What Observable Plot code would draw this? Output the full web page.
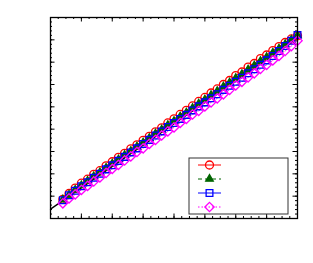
<!DOCTYPE html>
<html><head><meta charset="utf-8">
<script src="https://cdn.jsdelivr.net/npm/d3@7"></script>
<script src="https://cdn.jsdelivr.net/npm/@observablehq/plot@0.6"></script>
<style>html,body{margin:0;padding:0;background:#fff}svg{display:block}</style>
</head><body><div id="chart"></div>
<script>
const xs = [2,3,4,5,6,7,8,9,10,11,12,13,14,15,16,17,18,19,20,21,22,23,24,25,26,27,28,29,30,31,32,33,34,35,36,37,38,39,40];
const redY = [4.3,5.6,6.8,7.9,8.8,9.9,10.7,11.8,12.7,13.7,14.6,15.6,16.5,17.5,18.4,19.4,20.3,21.4,22.3,23.3,24.2,25.2,26.2,27.1,28.1,29.0,30.0,30.9,32.0,32.8,33.9,34.7,35.8,36.6,37.6,38.5,39.4,40.2,40.9];
const greenY = [4.2,5.3,6.4,7.4,8.4,9.4,10.3,11.3,12.3,13.2,14.2,15.1,16.1,17.0,18.0,19.0,19.9,20.9,21.8,22.8,23.7,24.7,25.7,26.6,27.6,28.5,29.5,30.4,31.4,32.3,33.3,34.2,35.2,36.1,37.1,38.0,39.0,40.0,41.0];
const blueY = [4.1,5.2,6.2,7.2,8.1,9.1,10.0,11.0,11.9,12.9,13.8,14.8,15.7,16.7,17.6,18.6,19.5,20.5,21.4,22.3,23.2,24.2,25.1,26.0,26.9,27.8,28.8,29.7,30.6,31.5,32.5,33.4,34.4,35.4,36.4,37.5,38.6,39.8,41.1];
const magentaY = [3.4,4.5,5.4,6.4,7.3,8.3,9.2,10.2,11.1,12.0,13.0,13.9,14.9,15.7,16.7,17.6,18.6,19.5,20.4,21.4,22.3,23.3,24.1,25.1,26.0,26.9,27.8,28.8,29.8,30.6,31.6,32.5,33.5,34.4,35.4,36.4,37.5,38.6,39.8];
const refX = [0, 40];
const refY = [2.1, 40.3];
const xMajor = [0,5,10,15,20,25,30,35,40];
const xMinor = d3.range(0, 40.01, 1.25);
const yMajor = [0,5,10,15,20,25,30,35,40,45];
const yMinor = d3.range(0, 45.01, 1);

const W = 313, H = 263, mL = 50, mR = 16, mT = 17, mB = 45;
const iw = W - mL - mR, ih = H - mT - mB;
const majLen = 4.5, minLen = 2;

const series = [
  {name: "red", y: redY, color: "#ff0000", symbol: "circle", fill: "none", r: 4.0, dash: null},
  {name: "green", y: greenY, color: "#006400", symbol: "triangle", fill: "#006400", r: 2.8, dash: "4,3"},
  {name: "blue", y: blueY, color: "#0000ff", symbol: "square", fill: "none", r: 3.8, dash: null},
  {name: "magenta", y: magentaY, color: "#ff00ff", symbol: "diamond2", fill: "none", r: 4.2, dash: "1.5,2"}
];

const marks = [];
for (const [vals, len] of [[xMinor, minLen], [xMajor, majLen]]) {
  marks.push(Plot.tickX(vals, {x: d => d, insetTop: ih - len, stroke: "black", strokeWidth: 1}));
  marks.push(Plot.tickX(vals, {x: d => d, insetBottom: ih - len, stroke: "black", strokeWidth: 1}));
}
for (const [vals, len] of [[yMinor, minLen], [yMajor, majLen]]) {
  marks.push(Plot.tickY(vals, {y: d => d, insetRight: iw - len, stroke: "black", strokeWidth: 1}));
  marks.push(Plot.tickY(vals, {y: d => d, insetLeft: iw - len, stroke: "black", strokeWidth: 1}));
}
for (const s of series) {
  marks.push(Plot.line(xs, {x: d => d, y: (d, i) => s.y[i], stroke: s.color, strokeWidth: 1, strokeDasharray: s.dash}));
}
marks.push(Plot.line(refX, {x: d => d, y: (d, i) => refY[i], stroke: "black", strokeWidth: 1.3}));
for (const s of series) {
  marks.push(Plot.dot(xs, {x: d => d, y: (d, i) => s.y[i], symbol: s.symbol, r: s.r, stroke: s.color, fill: s.fill, strokeWidth: 1.3}));
}
marks.push(Plot.frame({stroke: "black", strokeWidth: 1.3}));

const chart = Plot.plot({
  width: W, height: H,
  marginLeft: mL, marginRight: mR, marginTop: mT, marginBottom: mB,
  x: {domain: [0, 40], axis: null},
  y: {domain: [0, 45], axis: null},
  style: {background: "white"},
  marks
});
document.getElementById("chart").appendChild(chart);

// legend box (no labels, as in the reference)
const svg = d3.select(chart);
const lx0 = mL + iw - 9 - 99, ly0 = mT + ih - 4 - 56;
const g = svg.append("g");
g.append("rect").attr("x", lx0).attr("y", ly0).attr("width", 99).attr("height", 56)
  .attr("fill", "white").attr("stroke", "#333").attr("stroke-width", 1);
series.forEach((s, i) => {
  const cy = ly0 + 7 + i * 14;
  g.append("line").attr("x1", lx0 + 9).attr("x2", lx0 + 32).attr("y1", cy).attr("y2", cy)
    .attr("stroke", s.color).attr("stroke-width", 1).attr("stroke-dasharray", s.dash);
  const sym = {circle: d3.symbolCircle, triangle: d3.symbolTriangle, square: d3.symbolSquare, diamond2: d3.symbolDiamond2}[s.symbol];
  g.append("path").attr("d", d3.symbol(sym, Math.PI * s.r * s.r)())
    .attr("transform", `translate(${lx0 + 20.5},${cy})`)
    .attr("fill", s.fill).attr("stroke", s.color).attr("stroke-width", 1.3);
});
</script>
</body></html>
